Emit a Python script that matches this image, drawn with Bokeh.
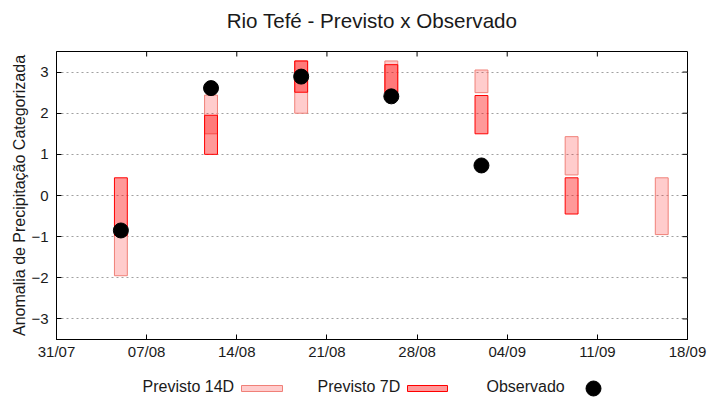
import math
import pandas as pd
from bokeh.plotting import figure
from bokeh.layouts import column
from bokeh.models import Range1d, FixedTicker, DatetimeTickFormatter, ColumnDataSource
from bokeh.core.properties import value
from bokeh.embed import file_html
from bokeh.resources import INLINE

# ---------------- data ----------------
title_text = "Rio Tefé - Previsto x Observado"
y_label = "Anomalia de Precipitação Categorizada"

dates_14d = ["2024-08-05", "2024-08-12", "2024-08-19", "2024-08-26", "2024-09-02", "2024-09-09", "2024-09-16"]
p14_low = [-1.95, 1.50, 2.00, 2.50, 2.50, 0.50, -0.95]
p14_high = [-0.97, 2.44, 3.27, 3.27, 3.05, 1.43, 0.43]

dates_7d = ["2024-08-05", "2024-08-12", "2024-08-19", "2024-08-26", "2024-09-02", "2024-09-09"]
p7_low = [-0.97, 1.00, 2.51, 2.50, 1.50, -0.45]
p7_high = [0.43, 1.95, 3.27, 3.18, 2.43, 0.43]

dates_obs = ["2024-08-05", "2024-08-12", "2024-08-19", "2024-08-26", "2024-09-02"]
obs = [-0.85, 2.61, 2.89, 2.41, 0.73]

x_ticks = ["2024-07-31", "2024-08-07", "2024-08-14", "2024-08-21", "2024-08-28", "2024-09-04", "2024-09-11", "2024-09-18"]
y_ticks = [-3, -2, -1, 0, 1, 2, 3]
y_min, y_max = -3.5, 3.5

legend_labels = ["Previsto 14D", "Previsto 7D", "Observado"]

# ---------------- layout constants (page pixels) ----------------
FONT = "Liberation Sans"
TXT = "#1a1a1a"
DAY_MS = 86400000
W = 720
FRAME_L, FRAME_R = 56, 687
TITLE_H, MAIN_H, LEG_H = 40, 330, 30


def to_dt(lst):
    return list(pd.to_datetime(lst))


def to_ms(lst):
    return [int(pd.Timestamp(d).value // 10**6) for d in lst]


def strip_fig(h, y0):
    f = figure(width=W, height=h, output_backend="svg", toolbar_location=None,
               x_range=Range1d(FRAME_L, FRAME_R), y_range=Range1d(y0 + h, y0),
               min_border_left=0, min_border_right=0, min_border_top=0, min_border_bottom=0)
    f.axis.visible = False
    f.grid.visible = False
    f.outline_line_color = None
    f.background_fill_color = "white"
    f.border_fill_color = "white"
    return f


# ---------------- title strip ----------------
tf = strip_fig(TITLE_H, 0)
tf.text(x=[(FRAME_L + FRAME_R) / 2], y=[20], text=[title_text],
        text_font=value(FONT), text_font_size="20.6px", text_baseline="middle",
        text_align="center", text_color=TXT)

# ---------------- main plot ----------------
xt = to_dt(x_ticks)

p = figure(width=W, height=MAIN_H, output_backend="svg", toolbar_location=None,
           x_range=Range1d(xt[0], xt[-1]), y_range=Range1d(y_min, y_max),
           x_axis_type="datetime",
           min_border_left=FRAME_L, min_border_right=W - FRAME_R,
           min_border_top=51 - TITLE_H, min_border_bottom=TITLE_H + MAIN_H - 339)

p.outline_line_color = "black"
p.outline_line_width = 1
p.background_fill_color = "white"
p.border_fill_color = "white"

xa = p.xaxis[0]
xa.ticker = FixedTicker(ticks=to_ms(x_ticks))
fmt = "%d/%m"
xa.formatter = DatetimeTickFormatter(milliseconds=fmt, seconds=fmt, minsec=fmt, minutes=fmt,
                                     hourmin=fmt, hours=fmt, days=fmt, months=fmt, years=fmt)
ya = p.yaxis[0]
ya.ticker = FixedTicker(ticks=y_ticks)
ya.axis_label = y_label
ya.axis_label_text_font = FONT
ya.axis_label_text_font_size = "16px"
ya.axis_label_text_font_style = "normal"
ya.axis_label_text_color = TXT
ya.axis_label_standoff = 0

for ax in (xa, ya):
    ax.major_tick_in = 5
    ax.major_tick_out = 0
    ax.minor_tick_in = 0
    ax.minor_tick_out = 0
    ax.axis_line_color = "black"
    ax.major_tick_line_color = "black"
    ax.major_label_text_font = FONT
    ax.major_label_text_font_size = "15px"
    ax.major_label_text_color = TXT
xa.major_label_standoff = 3
ya.major_label_standoff = 8

p.xgrid.visible = False
p.ygrid.ticker = FixedTicker(ticks=y_ticks)
p.ygrid.grid_line_color = "#a0a0a0"
p.ygrid.grid_line_dash = "2 3"
p.ygrid.grid_line_width = 1

# mirror ticks on top and right
p.ray(x=xt[1:-1], y=[y_max] * (len(xt) - 2), length=5, length_units="screen",
      angle=-math.pi / 2, line_color="black", line_width=1)
p.ray(x=[xt[-1]] * len(y_ticks), y=y_ticks, length=5, length_units="screen",
      angle=math.pi, line_color="black", line_width=1)

C14_FILL, C14_LINE = "red", "#f08078"
C7_FILL, C7_LINE = "red", "#ff0000"

s14 = ColumnDataSource(dict(x=to_dt(dates_14d), lo=p14_low, hi=p14_high))
p.vbar(x="x", bottom="lo", top="hi", width=DAY_MS, source=s14,
       fill_color=C14_FILL, fill_alpha=0.2, line_color=C14_LINE, line_width=1)
s7 = ColumnDataSource(dict(x=to_dt(dates_7d), lo=p7_low, hi=p7_high))
p.vbar(x="x", bottom="lo", top="hi", width=DAY_MS, source=s7,
       fill_color=C7_FILL, fill_alpha=0.4, line_color=C7_LINE, line_width=1)

so = ColumnDataSource(dict(x=to_dt(dates_obs), y=obs))
p.scatter(x="x", y="y", source=so, size=15, color="black")

# ---------------- legend strip ----------------
leg = strip_fig(LEG_H, TITLE_H + MAIN_H)
leg.text(x=[142, 317, 486], y=[386, 386, 386], text=legend_labels,
         text_font=value(FONT), text_font_size="16px", text_baseline="middle",
         text_align="left", text_color=TXT)
leg.quad(left=[241], right=[282], bottom=[391], top=[385],
         fill_color=C14_FILL, fill_alpha=0.2, line_color=C14_LINE, line_width=1)
leg.quad(left=[407], right=[447], bottom=[391], top=[385],
         fill_color=C7_FILL, fill_alpha=0.4, line_color=C7_LINE, line_width=1)
leg.scatter(x=[593], y=[388], size=15, color="black")

layout = column(tf, p, leg, spacing=0)
open("out.html", "w").write(file_html(layout, INLINE))
